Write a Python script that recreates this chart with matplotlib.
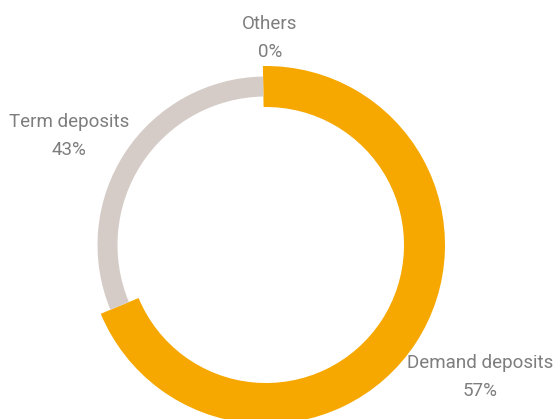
import matplotlib.pyplot as plt

# data
categories = ["Demand deposits", "Term deposits", "Others"]
pct_labels = [57, 43, 0]          # percentages printed on the chart
arc_shares = [69, 31, 0]          # share of the circle each arc actually covers
colors = ["#F6A800", "#D5CCC8", "#BBBBBB"]

plt.rcParams['font.family'] = ['Roboto', 'DejaVu Sans']

fig = plt.figure(figsize=(5.53, 4.19), dpi=100)
ax = fig.add_axes([0, 0, 1, 1])

center = (266, 174)
mid_r = 158.5
ring_w = [41, 20, 20]             # demand ring is drawn thicker

for i in range(len(categories)):
    if arc_shares[i] == 0:
        continue
    cols = ["none"] * len(categories)
    cols[i] = colors[i]
    ax.pie(arc_shares, colors=cols, startangle=91, counterclock=False,
           center=center, radius=mid_r + ring_w[i] / 2,
           wedgeprops=dict(width=ring_w[i], linewidth=0))

# labels (positions in pixel coords of the canvas)
label_pos = {"Demand deposits": (480, 419 - 377),
             "Term deposits": (69, 419 - 136),
             "Others": (270, 419 - 38)}
for name, pct in zip(categories, pct_labels):
    x, y = label_pos[name]
    ax.text(x, y, f"{name}\n{pct}%", ha="center", va="center",
            fontsize=13.5, color="#7d7d7d", linespacing=1.65)

ax.set_xlim(0, 553)
ax.set_ylim(0, 419)
ax.set_aspect("auto")
ax.axis("off")

fig.savefig("out.png", dpi=100)
